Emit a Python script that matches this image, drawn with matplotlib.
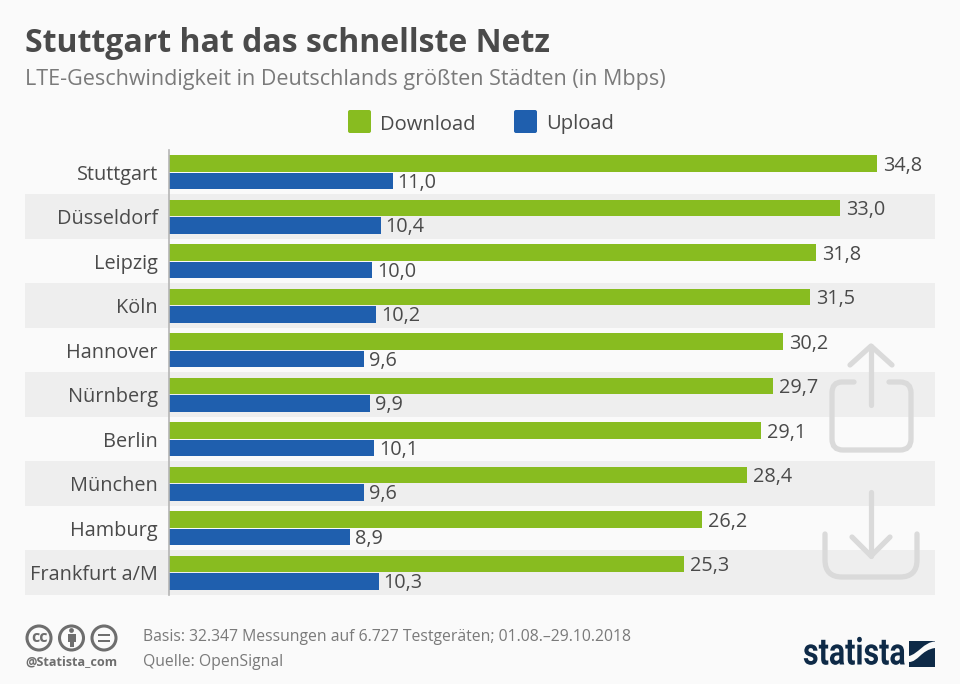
import matplotlib
matplotlib.use("Agg")
import matplotlib.pyplot as plt
from matplotlib.patches import Rectangle, Circle, FancyBboxPatch, PathPatch
from matplotlib.path import Path
from matplotlib.patheffects import AbstractPathEffect
from matplotlib.transforms import blended_transform_factory, Affine2D

plt.rcParams['font.family'] = ['Open Sans', 'DejaVu Sans']

title = "Stuttgart hat das schnellste Netz"
subtitle = "LTE-Geschwindigkeit in Deutschlands größten Städten (in Mbps)"
cities = ["Stuttgart", "Düsseldorf", "Leipzig", "Köln", "Hannover", "Nürnberg",
          "Berlin", "München", "Hamburg", "Frankfurt a/M"]
download = [34.8, 33.0, 31.8, 31.5, 30.2, 29.7, 29.1, 28.4, 26.2, 25.3]
upload = [11.0, 10.4, 10.0, 10.2, 9.6, 9.9, 10.1, 9.6, 8.9, 10.3]
series_names = ["Download", "Upload"]
basis = "Basis: 32.347 Messungen auf 6.727 Testgeräten; 01.08.–29.10.2018"
quelle = "Quelle: OpenSignal"
GREEN, BLUE, BAND, BG = "#88BC20", "#1F5FAE", "#EEEEEE", "#FAFAFA"
DARK, GREY, ICON = "#4A4A4A", "#7A7A7A", "#DADADA"
NAVY = "#0E2A47"

W, H = 960, 684
fig = plt.figure(figsize=(W/100, H/100), dpi=100, facecolor=BG)

def pix_axes(z):
    a = fig.add_axes([0, 0, 1, 1], zorder=z)
    a.set_xlim(0, W); a.set_ylim(H, 0); a.axis("off")
    a.patch.set_alpha(0)
    return a

left, right, top, bottom = 169, 935, 150, 595
ax = fig.add_axes([left/W, 1-bottom/H, (right-left)/W, (bottom-top)/H], zorder=2)
ax.patch.set_alpha(0)
ax.set_xlim(0, (right-left)/20.34)
ax.set_ylim(len(cities)-0.5, -0.5)
tr = blended_transform_factory(fig.transFigure, ax.transData)
for i in range(1, len(cities), 2):
    ax.add_patch(Rectangle((25/W, i-0.5), (right-25)/W, 1, transform=tr,
                           fc=BAND, ec="none", clip_on=False, zorder=0))
pos = list(range(len(cities)))
h = 0.375
ax.barh([p-0.195 for p in pos], download, height=h, color=GREEN, zorder=2)
ax.barh([p+0.195 for p in pos], upload, height=h, color=BLUE, zorder=2)
fmt = lambda v: f"{v:.1f}".replace(".", ",")
for p, d, u in zip(pos, download, upload):
    ax.annotate(fmt(d), (d, p-0.195), xytext=(4.4, -1.4), textcoords="offset points",
                va="center", ha="left", fontsize=14.3, color=DARK, zorder=3)
    ax.annotate(fmt(u), (u, p+0.195), xytext=(3.6, -1.4), textcoords="offset points",
                va="center", ha="left", fontsize=14.3, color=DARK, zorder=3)
ax.set_yticks(pos)
ax.set_yticklabels(cities, fontsize=14.3, color=DARK)
ax.tick_params(axis="y", length=0, pad=8.1)
ax.set_xticks([])
for s in ("top", "right", "bottom"):
    ax.spines[s].set_visible(False)
ax.spines["left"].set_color("#B5B5B5")
ax.spines["left"].set_linewidth(1.2)

fg = pix_axes(3)
fg.text(25, 43, title, fontsize=23.05, fontweight="bold", color=DARK, va="center", ha="left")
fg.text(25, 79, subtitle, fontsize=15.5, color=GREY, va="center", ha="left")

for x, col, name in zip((347, 513), (GREEN, BLUE), series_names):
    fg.add_patch(FancyBboxPatch((x+1, 110), 23, 23, boxstyle="round,pad=0,rounding_size=2", fc=col, ec="none"))
    fg.text(x+33, 129.5, name, fontsize=14.5, color=DARK, va="baseline", ha="left")

def line(pts, lw=5.2):
    xs, ys = zip(*pts)
    fg.plot(xs, ys, color=ICON, lw=lw*0.72, solid_capstyle="round", solid_joinstyle="round", zorder=1)

P = Path([(854, 382), (842, 382), (832, 382), (832, 393), (832, 439), (832, 450), (843, 450),
          (900, 450), (911, 450), (911, 439), (911, 393), (911, 382), (900, 382), (889, 382)],
         [1, 2, 3, 3, 2, 3, 3, 2, 3, 3, 2, 3, 3, 2])
fg.add_patch(PathPatch(P, fc="none", ec=ICON, lw=3.8, capstyle="round"))
line([(871, 405), (871, 346)])
line([(850, 365), (871, 346), (892, 365)])
P2 = Path([(825, 534), (825, 560), (825, 577), (842, 577), (900, 577), (917, 577), (917, 560), (917, 534)],
          [1, 2, 3, 3, 2, 3, 3, 2])
fg.add_patch(PathPatch(P2, fc="none", ec=ICON, lw=3.8, capstyle="round"))
line([(871, 492), (871, 556)])
line([(852, 537), (871, 556), (890, 537)])

fg.text(143, 637, basis, fontsize=11.3, color=GREY, va="center", ha="left")
fg.text(143, 662.5, quelle, fontsize=11.3, color=GREY, va="center", ha="left")
CCG = "#6E6E6E"
for cx in (39, 71.5, 104):
    fg.add_patch(Circle((cx, 638), 12, fc="none", ec=CCG, lw=2.2))
fg.text(39, 637.5, "cc", fontsize=11.5, fontweight="bold", color=CCG, ha="center", va="center")
fg.add_patch(Circle((71.5, 630.5), 2.4, fc=CCG, ec="none"))
fg.add_patch(Rectangle((67.5, 634), 8, 7.5, fc=CCG, ec="none"))
fg.add_patch(Rectangle((69.5, 640), 4, 7, fc=CCG, ec="none"))
fg.add_patch(Rectangle((98, 633.5), 12, 2.8, fc=CCG, ec="none"))
fg.add_patch(Rectangle((98, 639.5), 12, 2.8, fc=CCG, ec="none"))
fg.text(25, 662, "@Statista_com", fontsize=9.1, fontweight="bold", color=CCG, ha="left", va="center")

class SqueezeX(AbstractPathEffect):
    """Narrow a text horizontally about a display x position (condensed logo type)."""
    def __init__(self, x0, sx):
        super().__init__()
        self.x0, self.sx = x0, sx
    def draw_path(self, renderer, gc, tpath, affine, rgbFace=None):
        a = affine + Affine2D().translate(-self.x0, 0).scale(self.sx, 1).translate(self.x0, 0)
        renderer.draw_path(gc, tpath, a, rgbFace)

fg.text(803, 654, "statista", fontsize=27, fontweight="bold", color=NAVY, ha="left", va="center",
        family=["Roboto", "DejaVu Sans"], path_effects=[SqueezeX(803, 0.81)])
fg.add_patch(Rectangle((909, 641), 26, 26, fc=NAVY, ec="none"))
wave = Path([(909, 662), (918, 662), (921, 650), (935, 648), (935, 641.5), (924, 642),
             (918, 654), (909, 656), (909, 662)], [1, 4, 4, 4, 2, 4, 4, 4, 79])
fg.add_patch(PathPatch(wave, fc=BG, ec="none"))

fig.savefig("out.png", dpi=100, facecolor=BG)
